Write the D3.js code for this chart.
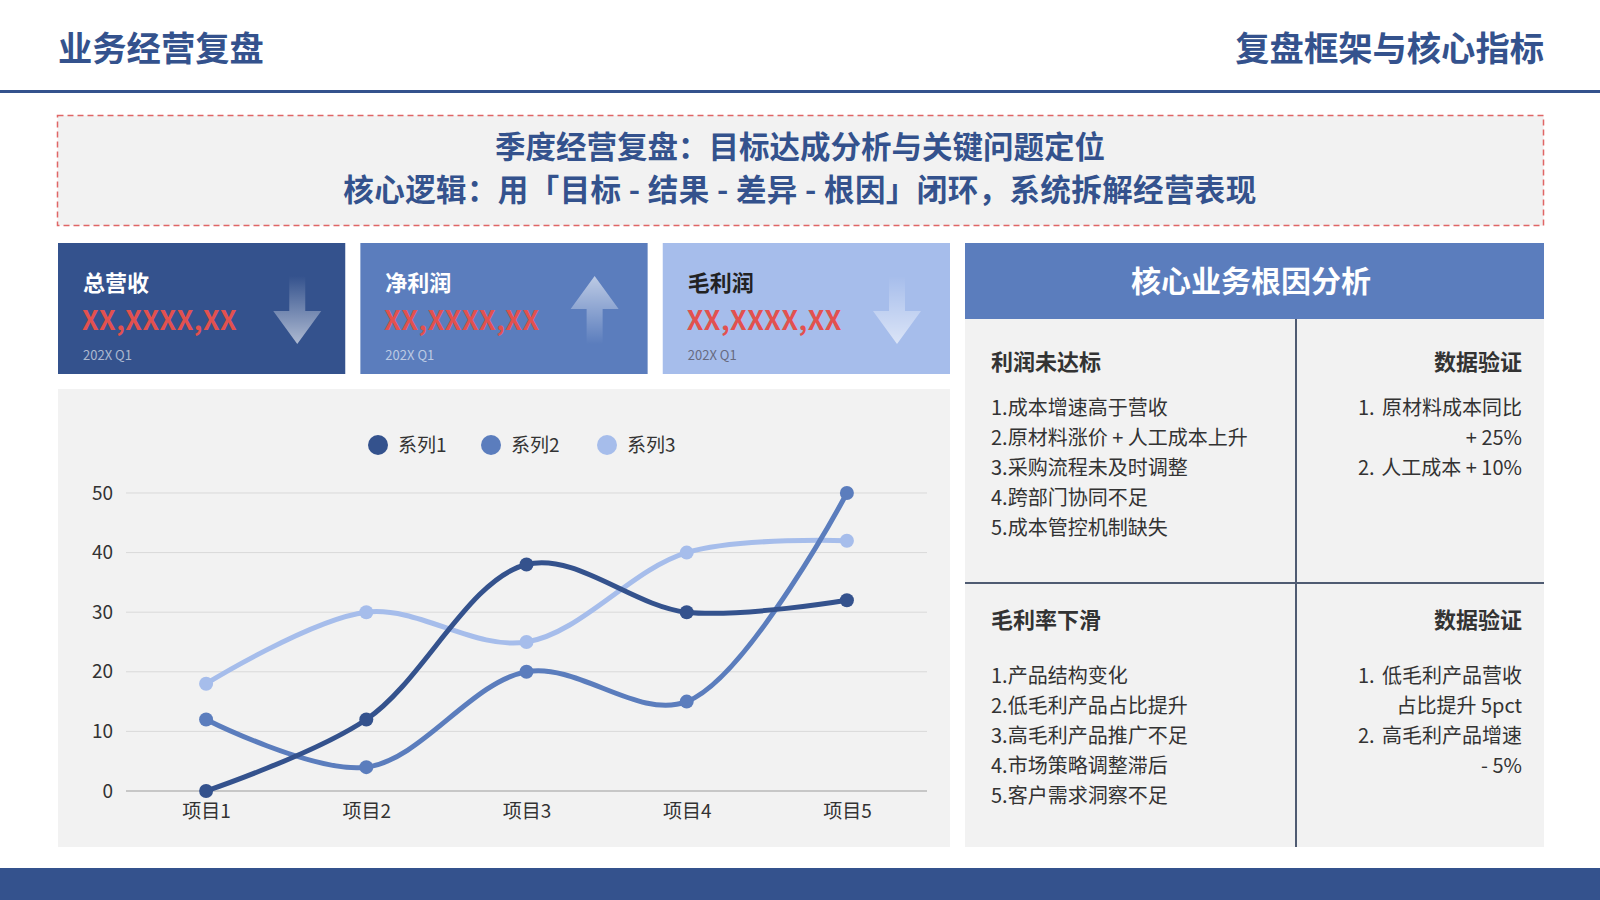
<!DOCTYPE html>
<html>
<head>
<meta charset="utf-8">
<script src="https://cdn.jsdelivr.net/npm/d3@7"></script>
<style>
body { margin: 0; background: #fff; }
svg text { font-family: "Noto Sans CJK SC", "Noto Sans", sans-serif; }
</style>
</head>
<body>
<svg id="page" width="1600" height="900"></svg>
<script>
// chart data
var categories = ["项目1", "项目2", "项目3", "项目4", "项目5"];
var seriesNames = ["系列1", "系列2", "系列3"];
var series1 = [0, 12, 38, 30, 32];
var series2 = [12, 4, 20, 15, 50];
var series3 = [18, 30, 25, 40, 42];
var yTicks = [0, 10, 20, 30, 40, 50];

// cards
var cardTitles = ["总营收", "净利润", "毛利润"];
var cardValues = ["XX,XXXX,XX", "XX,XXXX,XX", "XX,XXXX,XX"];
var cardPeriods = ["202X Q1", "202X Q1", "202X Q1"];
var cardTrend = ["down", "up", "down"];

// root cause panel
var causeTitles = ["利润未达标", "毛利率下滑"];
var causeLists = [
  ["1.成本增速高于营收", "2.原材料涨价 + 人工成本上升", "3.采购流程未及时调整", "4.跨部门协同不足", "5.成本管控机制缺失"],
  ["1.产品结构变化", "2.低毛利产品占比提升", "3.高毛利产品推广不足", "4.市场策略调整滞后", "5.客户需求洞察不足"]
];
var proofTitle = "数据验证";
var proofLists = [
  [["1.", "原材料成本同比"], ["", "+ 25%"], ["2.", "人工成本 + 10%"]],
  [["1.", "低毛利产品营收"], ["", "占比提升 5pct"], ["2.", "高毛利产品增速"], ["", "- 5%"]]
];

var colors = ["#34528d", "#5b7dbd", "#a6bdeb"];
var navy = "#34528d";

var svg = d3.select("#page");

// header
svg.append("text").attr("x", 58).attr("y", 61)
  .attr("font-size", 34.3).attr("font-weight", 700).attr("fill", navy)
  .text("业务经营复盘");
svg.append("text").attr("x", 1544).attr("y", 61).attr("text-anchor", "end")
  .attr("font-size", 34.3).attr("font-weight", 700).attr("fill", navy)
  .text("复盘框架与核心指标");
svg.append("rect").attr("x", 0).attr("y", 90).attr("width", 1600).attr("height", 3).attr("fill", navy);

// summary box
svg.append("rect").attr("x", 57.5).attr("y", 115.5).attr("width", 1486).attr("height", 110)
  .attr("fill", "#f2f2f2").attr("stroke", "#e06666").attr("stroke-width", 1.5)
  .attr("stroke-dasharray", "6,4");
svg.append("text").attr("x", 800).attr("y", 158).attr("text-anchor", "middle")
  .attr("font-size", 30.5).attr("font-weight", 700).attr("fill", navy)
  .text("季度经营复盘：目标达成分析与关键问题定位");
svg.append("text").attr("x", 800).attr("y", 201).attr("text-anchor", "middle")
  .attr("font-size", 30.5).attr("font-weight", 700).attr("fill", navy)
  .attr("letter-spacing", 0.4)
  .text("核心逻辑：用「目标 - 结果 - 差异 - 根因」闭环，系统拆解经营表现");

// gradients for arrows
var defs = svg.append("defs");
var gDown = defs.append("linearGradient").attr("id", "gDown").attr("x1", 0).attr("y1", 0).attr("x2", 0).attr("y2", 1);
gDown.append("stop").attr("offset", "0%").attr("stop-color", "#fff").attr("stop-opacity", 0);
gDown.append("stop").attr("offset", "100%").attr("stop-color", "#fff").attr("stop-opacity", 0.6);
var gUp = defs.append("linearGradient").attr("id", "gUp").attr("x1", 0).attr("y1", 0).attr("x2", 0).attr("y2", 1);
gUp.append("stop").attr("offset", "0%").attr("stop-color", "#fff").attr("stop-opacity", 0.6);
gUp.append("stop").attr("offset", "100%").attr("stop-color", "#fff").attr("stop-opacity", 0);

// kpi cards
var cardX = d3.scaleBand().domain(d3.range(3)).range([58, 950]).paddingInner(0.05);
var arrowOffset = [48, 53, 53];
var cards = svg.selectAll("g.card").data(cardTitles).enter().append("g")
  .attr("class", "card")
  .attr("transform", function(d, i) { return "translate(" + cardX(i) + ",243)"; });
cards.append("rect").attr("width", cardX.bandwidth()).attr("height", 131)
  .attr("fill", function(d, i) { return colors[i]; });
cards.append("text").attr("x", 25).attr("y", 48)
  .attr("font-size", 22).attr("font-weight", 700)
  .attr("fill", function(d, i) { return i == 2 ? "#222" : "#fff"; })
  .text(function(d) { return d; });
cards.append("text").attr("x", 24).attr("y", 87)
  .attr("font-size", 26.5).attr("font-weight", 700).attr("fill", "#e2514f")
  .attr("letter-spacing", 0.5)
  .text(function(d, i) { return cardValues[i]; });
cards.append("text").attr("x", 25).attr("y", 117)
  .attr("font-size", 13)
  .attr("fill", function(d, i) { return i == 2 ? "#666a80" : "rgba(255,255,255,0.6)"; })
  .text(function(d, i) { return cardPeriods[i]; });
cards.append("path")
  .attr("transform", function(d, i) { return "translate(" + (cardX.bandwidth() - arrowOffset[i]) + ",33)"; })
  .attr("d", function(d, i) {
    if (cardTrend[i] == "down") return "M-8,0 L8,0 L8,35 L24,35 L0,68 L-24,35 L-8,35 Z";
    return "M0,0 L24,33 L8,33 L8,68 L-8,68 L-8,33 L-24,33 Z";
  })
  .attr("fill", function(d, i) { return cardTrend[i] == "down" ? "url(#gDown)" : "url(#gUp)"; });

// line chart panel
svg.append("rect").attr("x", 58).attr("y", 389).attr("width", 892).attr("height", 458).attr("fill", "#f2f2f2");

var x = d3.scalePoint().domain(categories).range([126, 927]).padding(0.5);
var y = d3.scaleLinear().domain([0, 50]).range([791, 493]);

var grid = svg.append("g");
grid.selectAll("line").data(yTicks).enter().append("line")
  .attr("x1", 126).attr("x2", 927)
  .attr("y1", function(d) { return y(d); }).attr("y2", function(d) { return y(d); })
  .attr("stroke", function(d) { return d == 0 ? "#b8b8b8" : "#d9d9d9"; })
  .attr("stroke-width", function(d) { return d == 0 ? 1.5 : 1; });

var yAxis = svg.append("g").attr("transform", "translate(113,0)")
  .call(d3.axisLeft(y).tickValues(yTicks).tickSize(0).tickPadding(0));
yAxis.select(".domain").remove();
yAxis.selectAll("text").attr("font-size", 19).attr("fill", "#333")
  .style("font-family", "'Noto Sans CJK SC', sans-serif");

var xAxis = svg.append("g").attr("transform", "translate(0,800)")
  .call(d3.axisBottom(x).tickSize(0).tickPadding(4));
xAxis.select(".domain").remove();
xAxis.selectAll("text").attr("font-size", 19).attr("fill", "#333")
  .style("font-family", "'Noto Sans CJK SC', sans-serif");

var allSeries = [series1, series2, series3];
var line = d3.line()
  .x(function(d, i) { return x(categories[i]); })
  .y(function(d) { return y(d); })
  .curve(d3.curveCatmullRom.alpha(0.5));

// light series first so the dark lines sit on top
var order = [2, 1, 0];
order.forEach(function(s) {
  svg.append("path").attr("d", line(allSeries[s]))
    .attr("fill", "none").attr("stroke", colors[s]).attr("stroke-width", 5)
    .attr("stroke-linecap", "round");
  svg.append("g").selectAll("circle").data(allSeries[s]).enter().append("circle")
    .attr("cx", function(d, i) { return x(categories[i]); })
    .attr("cy", function(d) { return y(d); })
    .attr("r", 7)
    .attr("fill", colors[s]);
});

// legend
var legX = [378, 491, 607];
var legend = svg.selectAll("g.leg").data(seriesNames).enter().append("g")
  .attr("class", "leg")
  .attr("transform", function(d, i) { return "translate(" + legX[i] + ",445)"; });
legend.append("circle").attr("r", 10).attr("fill", function(d, i) { return colors[i]; });
legend.append("text").attr("x", 20).attr("y", 7).attr("font-size", 19).attr("fill", "#333")
  .text(function(d) { return d; });

// root cause panel
svg.append("rect").attr("x", 965).attr("y", 243).attr("width", 579).attr("height", 76).attr("fill", "#5b7dbd");
svg.append("text").attr("x", 1251).attr("y", 292).attr("text-anchor", "middle")
  .attr("font-size", 30).attr("font-weight", 700).attr("fill", "#fff")
  .text("核心业务根因分析");
svg.append("rect").attr("x", 965).attr("y", 319).attr("width", 579).attr("height", 528).attr("fill", "#f2f2f2");
svg.append("line").attr("x1", 1296).attr("x2", 1296).attr("y1", 319).attr("y2", 847)
  .attr("stroke", "#4f5b72").attr("stroke-width", 2);
svg.append("line").attr("x1", 965).attr("x2", 1544).attr("y1", 583).attr("y2", 583)
  .attr("stroke", "#4f5b72").attr("stroke-width", 2);

var quadTop = [319, 583];
var titleOff = [51, 45];
var listOff = [96, 100];
quadTop.forEach(function(top, q) {
  svg.append("text").attr("x", 991).attr("y", top + titleOff[q])
    .attr("font-size", 22).attr("font-weight", 700).attr("fill", "#333")
    .text(causeTitles[q]);
  svg.append("text").attr("x", 1522).attr("y", top + titleOff[q]).attr("text-anchor", "end")
    .attr("font-size", 22).attr("font-weight", 700).attr("fill", "#333")
    .text(proofTitle);
  svg.append("g").selectAll("text").data(causeLists[q]).enter().append("text")
    .attr("x", 991).attr("y", function(d, i) { return top + listOff[q] + i * 30; })
    .attr("font-size", 20).attr("fill", "#333")
    .text(function(d) { return d; });
  var rows = svg.append("g").selectAll("g").data(proofLists[q]).enter().append("g")
    .attr("transform", function(d, i) { return "translate(0," + (top + listOff[q] + i * 30) + ")"; });
  rows.append("text").attr("x", 1358).attr("font-size", 20).attr("fill", "#333")
    .text(function(d) { return d[0]; });
  rows.append("text").attr("x", 1522).attr("text-anchor", "end").attr("font-size", 20).attr("fill", "#333")
    .text(function(d) { return d[1]; });
});

// footer bar
svg.append("rect").attr("x", 0).attr("y", 868).attr("width", 1600).attr("height", 32).attr("fill", navy);
</script>
</body>
</html>
